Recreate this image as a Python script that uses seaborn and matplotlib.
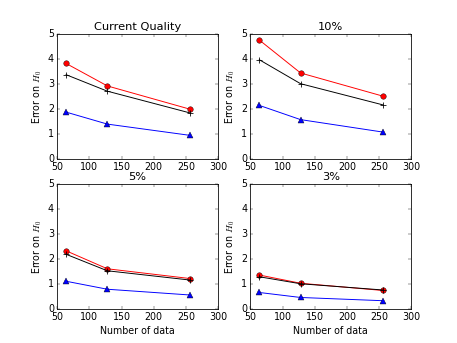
import matplotlib
matplotlib.use('Agg')
import matplotlib.pyplot as plt
import seaborn as sns

plt.style.use('classic')

n_data = [64, 128, 256]
titles = ['Current Quality', '10%', '5%', '3%']

red_vals = [[3.83, 2.93, 2.00],
            [4.77, 3.45, 2.52],
            [2.32, 1.60, 1.21],
            [1.35, 1.02, 0.73]]
black_vals = [[3.38, 2.72, 1.85],
              [3.98, 3.02, 2.17],
              [2.18, 1.52, 1.15],
              [1.28, 1.00, 0.75]]
blue_vals = [[1.88, 1.40, 0.95],
             [2.15, 1.58, 1.08],
             [1.10, 0.78, 0.55],
             [0.65, 0.45, 0.32]]

fig, axes = plt.subplots(2, 2, figsize=(8, 343 / 57.125), dpi=57.125,
                         facecolor='white')

for i, ax in enumerate(axes.flat):
    sns.lineplot(x=n_data, y=red_vals[i], color='r', marker='o', lw=1.2,
                 markersize=7, markeredgecolor='k', markeredgewidth=0.5, ax=ax)
    sns.lineplot(x=n_data, y=black_vals[i], color='k', marker='+', lw=1.2,
                 markersize=7, markeredgecolor='k', markeredgewidth=1, ax=ax)
    sns.lineplot(x=n_data, y=blue_vals[i], color='b', marker='^', lw=1.2,
                 markersize=7, markeredgecolor='k', markeredgewidth=0.5, ax=ax)
    ax.set_xlim(50, 300)
    ax.set_ylim(0, 5)
    ax.set_title(titles[i])
    ax.set_ylabel('Error on $H_0$')
    if i >= 2:
        ax.set_xlabel('Number of data')

plt.savefig('out.png', dpi=57.125, facecolor='white')
